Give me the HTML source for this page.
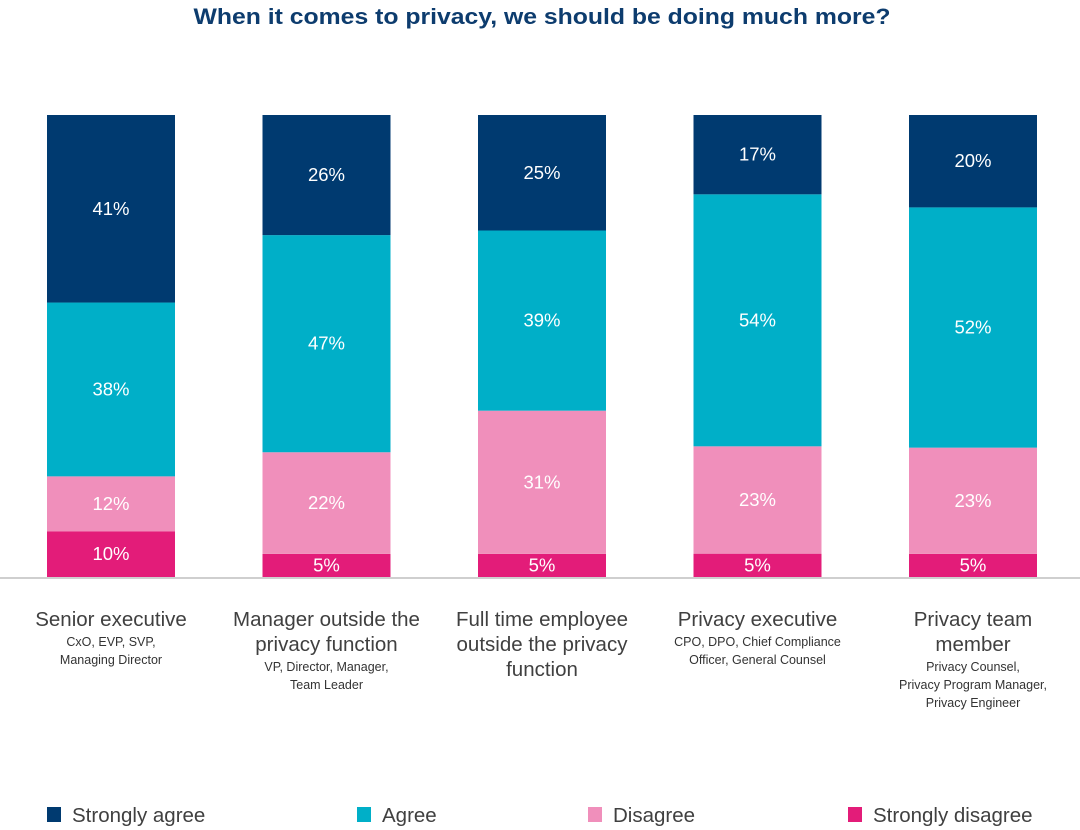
<!DOCTYPE html>
<html><head><meta charset="utf-8">
<style>
html,body{margin:0;padding:0;background:#fff;}
svg{display:block;font-family:"Liberation Sans",sans-serif;}
</style></head>
<body>
<svg id="chart" width="1080" height="830" viewBox="0 0 1080 830">
<text x="542" y="24" text-anchor="middle" font-size="22" font-weight="bold" fill="#0d3c6e" textLength="697" lengthAdjust="spacingAndGlyphs">When it comes to privacy, we should be doing much more?</text>
<line x1="0" y1="578" x2="1080" y2="578" stroke="#cfcfcf" stroke-width="2"/>
</svg>
<script>
const categories = ["Senior executive","Manager outside the privacy function","Full time employee outside the privacy function","Privacy executive","Privacy team member"];
const strongDisagree = [10,5,5,5,5];
const disagree = [12,22,31,23,23];
const agree = [38,47,39,54,52];
const strongAgree = [41,26,25,17,20];
const mainLines = [["Senior executive"],["Manager outside the","privacy function"],["Full time employee","outside the privacy","function"],["Privacy executive"],["Privacy team","member"]];
const subLines = [["CxO, EVP, SVP,","Managing Director"],["VP, Director, Manager,","Team Leader"],[],["CPO, DPO, Chief Compliance","Officer, General Counsel"],["Privacy Counsel,","Privacy Program Manager,","Privacy Engineer"]];
const seriesNames = ["Strongly agree","Agree","Disagree","Strongly disagree"];

const NS="http://www.w3.org/2000/svg";
const svg=document.getElementById('chart');
const colors=["#003a70","#00afc8","#f08fbb","#e31c79"];
const keys=["strongly-agree","agree","disagree","strongly-disagree"];
const plotTop=115, plotBottom=577, barW=128;
const x0=47, step=215.5;
function xPos(i){return x0+i*step;}
function mk(tag,attrs){const e=document.createElementNS(NS,tag);for(const k in attrs)e.setAttribute(k,attrs[k]);svg.appendChild(e);return e;}

categories.forEach((c,i)=>{
  const stack=[strongDisagree[i],disagree[i],agree[i],strongAgree[i]];
  const total=stack.reduce((a,b)=>a+b,0);
  const scale=(plotBottom-plotTop)/total;
  let y=plotBottom;
  const order=[3,2,1,0];
  stack.forEach((v,j)=>{
    const h=v*scale;
    const r=mk('rect',{x:xPos(i),y:y-h,width:barW,height:h,fill:colors[order[j]]});
    
    
    const t=mk('text',{x:xPos(i)+barW/2,y:y-h/2+6,'text-anchor':'middle','font-size':18.5,fill:'#fff'});
    
    
    t.textContent=v+'%';
    y-=h;
  });
  const cx=xPos(i)+barW/2;
  let ly=626;
  mainLines[i].forEach(l=>{
    const t=mk('text',{x:cx,y:ly,'text-anchor':'middle','font-size':20.5,fill:'#404040'});
    
    
    t.textContent=l; ly+=25;
  });
  ly-=5;
  subLines[i].forEach(l=>{
    const t=mk('text',{x:cx,y:ly,'text-anchor':'middle','font-size':12.5,fill:'#333'});
    
    
    t.textContent=l; ly+=18;
  });
});

const legX=[47,357,588,848];
seriesNames.forEach((n,i)=>{
  const r=mk('rect',{x:legX[i],y:807,width:14,height:15,fill:colors[i]});
  
  
  const t=mk('text',{x:legX[i]+25,y:822,'font-size':20.5,fill:'#404040'});
  
  
  t.textContent=n;
});
</script>
</body></html>
